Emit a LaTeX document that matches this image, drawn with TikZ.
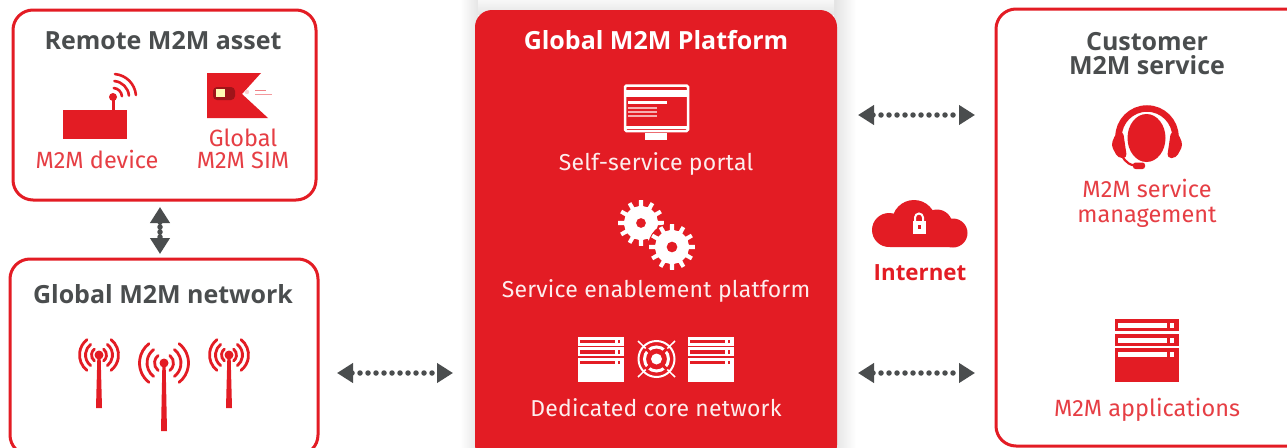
\documentclass[tikz,border=0pt]{standalone}
\usepackage{fontspec}
\setmainfont{Fira Sans}
\newfontfamily\headfont{Open Sans}
\usetikzlibrary{arrows.meta}
\definecolor{vred}{HTML}{E31C24}
\definecolor{vtext}{HTML}{E63E44}
\definecolor{vgray}{HTML}{4A4D4E}
\tikzset{
  panel/.style={draw=vred,line width=3pt,rounded corners=20pt,inner sep=0pt,outer sep=0pt,fill=white},
  corepanel/.style={fill=vred,rounded corners=17pt,inner sep=0pt,outer sep=0pt},
  headg/.style={anchor=base,text=vgray,font=\fontsize{25}{28}\headfont\bfseries},
  headw/.style={anchor=base,text=white,font=\fontsize{25}{28}\headfont\bfseries},
  labr/.style={anchor=base,text=vtext,font=\fontsize{23.5}{27}\selectfont},
  labw/.style={anchor=base,text=white!92!vred,font=\fontsize{23}{27}\selectfont\addfontfeatures{LetterSpace=1}},
  link/.style={draw=vgray,line width=5.5pt,line cap=round,dash pattern=on 0pt off 8pt,
    {Triangle[length=16pt,width=19pt]}-{Triangle[length=16pt,width=19pt]}},
  wave/.style={draw=vred,line cap=round},
}
\newcommand{\rackicon}[5]{% x y scale fg bg
  \begin{scope}[shift={(#1,#2)},x=#3pt,y=-#3pt]
    \fill[#4] (0,0) rectangle (64,63);
    \foreach \t in {0,14.5}{
      \fill[#5] (0,\t+12) rectangle (64,\t+14.5);
    }
    \foreach \t in {0,14.5,29}{
      \fill[#5] (3,\t+4) rectangle (52,\t+9);
      \fill[#5] (55,\t+4) rectangle (59,\t+9);
    }
  \end{scope}}
\newcommand{\mast}[6]{% x y bottom r1 r2 r3
  \fill[vred] (#1-1.6,#2) -- (#1+1.6,#2) -- (#1+3,#3) -- (#1-3,#3) -- cycle;
  \fill[vred] (#1,#2) circle (4.5);
  \foreach \r in {#4,#5,#6}{
    \draw[wave,line width=2.8pt] ([shift={(-52:\r)}]#1,#2) arc[start angle=-52,end angle=52,radius=\r];
    \draw[wave,line width=2.8pt] ([shift={(128:\r)}]#1,#2) arc[start angle=128,end angle=232,radius=\r];
  }}
\newcommand{\cog}[4]{% x y R hole
  \begin{scope}[shift={(#1,#2)}]
    \fill[white,even odd rule] (-7:#3-6) \foreach \a in {0,30,...,330}{
      -- (\a-7:#3-6) -- (\a-5:#3) -- (\a+5:#3) -- (\a+7:#3-6)} -- cycle
      (0,0) circle (#4);
  \end{scope}}
\begin{document}
\begin{tikzpicture}[x=1pt,y=-1pt]
\useasboundingbox (0,0) rectangle (1287,447);
\clip (0,0) rectangle (1287,447);
\fill[white] (0,0) rectangle (1287,447);
% soft shadow of the platform panel
\shade[left color=white,right color=black!10] (460,0) rectangle (478,447);
\shade[left color=black!11,right color=white] (834,0) rectangle (856,447);
\shade[top color=black!3,bottom color=black!10] (478,0) rectangle (834,14);

% panels
\node[panel,minimum width=303pt,minimum height=190pt] (remote) at (164.5,105) {};
\node[panel,minimum width=308pt,minimum height=196pt] (network) at (164,357) {};
\node[corepanel,minimum width=362pt,minimum height=452pt] (core) at (656,236) {};
\node[panel,minimum width=320pt,minimum height=437pt] (customer) at (1156,227.5) {};

% connectors
\draw[link,dash pattern=on 0pt off 5pt,shorten >=5pt,shorten <=7pt] ([xshift=-4.5pt]remote.south) -- ([xshift=-4pt]network.north);
\draw[link,shorten <=19pt,shorten >=22pt] ([yshift=-16pt]network.east) -- ([yshift=-16pt]network.east -| core.west);
\draw[link,shorten <=21pt,shorten >=21pt] ([yshift=121pt]core.east) -- ([yshift=121pt]core.east -| customer.west);
\draw[link,shorten <=21pt,shorten >=21pt] ([yshift=-137pt]core.east) -- ([yshift=-137pt]core.east -| customer.west);

% titles and labels
\node[headg] (t1) at (163,49) {Remote M2M asset};
\node[labr] (l1) at (97,168) {M2M device};
\node[labr] (l2) at (243,146) {Global};
\node[labr] (l3) at (243,168) {M2M SIM};
\node[headg] (t2) at (163,303) {Global M2M network};
\node[headw] (t3) at (656,49) {Global M2M Platform};
\node[labw] (l4) at (656,170) {Self-service portal};
\node[labw] (l5) at (656,297) {Service enablement platform};
\node[labw] (l6) at (656,416) {Dedicated core network};
\node[anchor=base,text=vred,font=\fontsize{22.3}{27}\headfont\bfseries] (l7) at (920,280) {Internet};
\node[headg] (t4) at (1147,50) {Customer};
\node[headg] (t5) at (1147,74) {M2M service};
\node[labr] (l8) at (1147,197) {M2M service};
\node[labr] (l9) at (1147,222) {management};
\node[labr] (l10) at (1147,416) {M2M applications};

% M2M device
\fill[vred] (63,110) rectangle (127,139);
\fill[vred] (111.5,97) rectangle (114.5,110);
\fill[vred] (113,97) circle (4);
\foreach \r in {9,16,23}{
  \draw[wave,line width=2.6pt] ([shift={(-85:\r)}]113,97) arc[start angle=-85,end angle=-5,radius=\r];
}

% SIM
\fill[vred] (207,73) -- (261,73) -- (242,94) -- (268,118) -- (207,118) -- cycle;
\fill[vred!70!black,rounded corners=4pt] (213,87) rectangle (235,100);
\fill[yellow!30!white] (215.5,89) rectangle (225,97);
\fill[white!80!vred] (247,92) circle (2.2);
\fill[vred!55!white] (255,90) rectangle (266,91.2);
\fill[vred!45!white] (255,94) rectangle (272,95);

% masts
\mast{99}{355}{408}{7.5}{13.5}{19.5}
\mast{164}{363}{431}{9.5}{17}{24.5}
\mast{229}{355}{408}{7.5}{13.5}{19.5}

% monitor
\draw[white,line width=2.5pt,rounded corners=1.5pt] (625,85.5) rectangle (688,131);
\fill[white] (626,90) rectangle (687,97);
\fill[white] (628,101) rectangle (667,104);
\foreach \yy in {107,111,115}{ \fill[white!65!vred] (628,\yy) rectangle (657,\yy+2.4); }
\fill[white] (626,126) rectangle (687,129);
\fill[white] (645,133) rectangle (667,140);

% gears
\cog{641}{223}{23}{5}
\fill[vred] (672,247) circle (24);
\cog{672}{247}{23}{5.5}

% core network
\rackicon{578}{337}{0.72}{white}{vred}
\rackicon{688}{337}{0.72}{white}{vred}
\draw[white,line width=1.5pt] (638,341) -- (675,377) (675,341) -- (638,377);
\draw[white,line width=2pt] (656.5,359) circle (18);
\fill[vred] (656.5,359) circle (14.5);
\draw[white,line width=3pt] (656.5,359) circle (12);
\foreach \a in {45,135,225,315}{ \draw[vred,line width=3pt] (656.5,359) -- ++(\a:15); }
\fill[white] (656.5,359) circle (5.5);

% cloud
\fill[vred,rounded corners=1pt] (889,247) -- (952,247) -- (952,225) -- (889,225) -- cycle;
\fill[vred] (889,230) circle (17);
\fill[vred] (914,222) circle (22);
\fill[vred] (937,225) circle (15.5);
\fill[vred] (953,233) circle (14.5);
\draw[white,line width=2pt] (915,222) -- (915,217.5) arc[start angle=180,end angle=360,radius=4] -- (923,222);
\fill[white] (912.5,221) rectangle (926,234);
\fill[vred] (917.5,225) rectangle (921,229);

% headset
\fill[vred] (1146.5,138) ellipse [x radius=19,y radius=24];
\draw[vred,line width=6.5pt] (1118.5,137) arc[start angle=180,end angle=360,radius=28.5];
\fill[vred,rounded corners=4pt] (1116,133) -- (1123,131) -- (1127,158) -- (1118,158) -- (1111,145) -- cycle;
\fill[vred,rounded corners=4pt] (1178,133) -- (1171,131) -- (1167,158) -- (1176,158) -- (1183,145) -- cycle;
\draw[vred,line width=2.2pt,line cap=round] (1122,155) .. controls (1125,163) and (1131,166) .. (1140,166);
\fill[vred,rounded corners=2.5pt] (1133,162.5) rectangle (1145,169);

% applications
\rackicon{1115}{319}{1}{vred}{white}
\end{tikzpicture}
\end{document}
